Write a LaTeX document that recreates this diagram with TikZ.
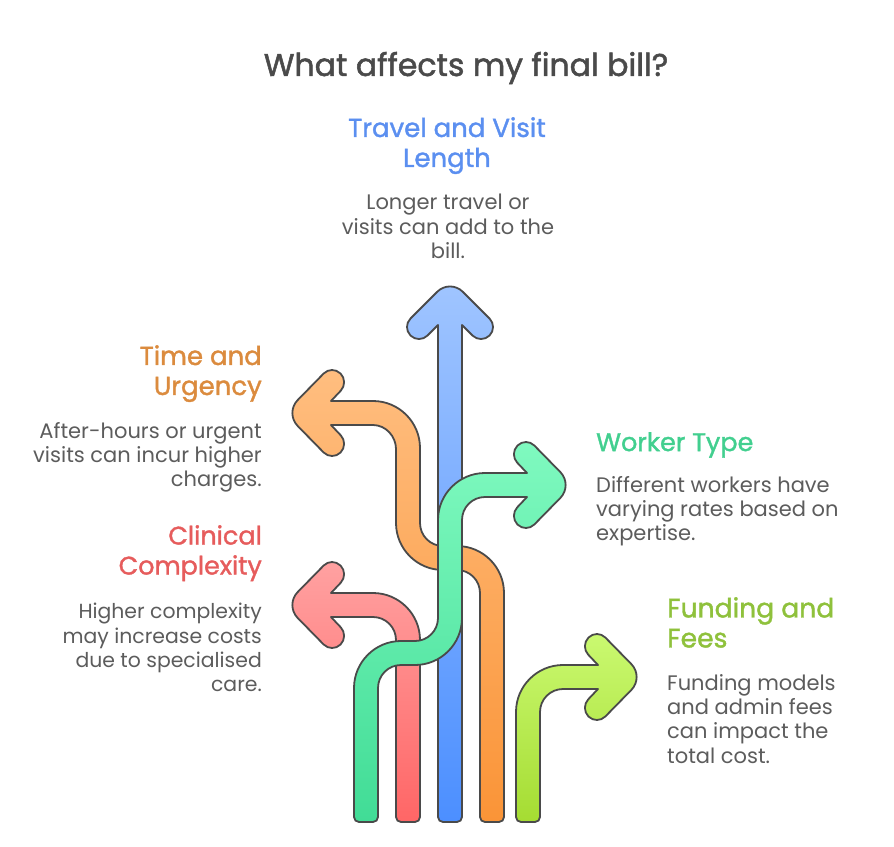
\documentclass[tikz,border=0pt]{standalone}
\usepackage{fontspec}
\setmainfont{Poppins}
\newfontfamily\titlefont[FakeBold=1.6]{Poppins}
\newfontfamily\headfont[FakeBold=1.4]{Poppins}
\newfontfamily\bodyfont{Poppins}
\definecolor{ink}{HTML}{4A4A4A}
\definecolor{bodyc}{HTML}{5C5C5C}
\definecolor{hblue}{HTML}{5B8FF0}
\definecolor{horange}{HTML}{DB8B3E}
\definecolor{hred}{HTML}{E65C5C}
\definecolor{hgreen}{HTML}{42CF8F}
\definecolor{hlime}{HTML}{8FC13C}
\def\headH#1#2#3#4{-- ({#1-(#3)*46},{#2-(#4)*12}) [rounded corners=12pt] -- ({#1-(#3)*64},{#2-(#4)*31}) -- ({#1-(#3)*47},{#2-(#4)*48}) [rounded corners=18pt] -- (#1,#2) [rounded corners=12pt] -- ({#1-(#3)*47},{#2+(#4)*48}) -- ({#1-(#3)*64},{#2+(#4)*31}) [sharp corners] -- ({#1-(#3)*46},{#2+(#4)*12})}
\tikzset{
  arrowshape/.style={draw=ink,line width=1.8pt,line join=round,shade,shading angle=0},
  title/.style={text=ink,font=\titlefont\fontsize{31.5}{36}\selectfont,inner sep=0pt},
  heading/.style={font=\headfont\fontsize{26}{30}\selectfont,inner sep=0pt},
  body/.style={text=bodyc,font=\bodyfont\fontsize{21}{24.3}\selectfont,inner sep=0pt},
}
\begin{document}
\begin{tikzpicture}[x=1pt,y=-1pt]
\useasboundingbox (0,0) rectangle (894,846);
% blue
\path[arrowshape,top color={rgb,255:red,160;green,197;blue,255},bottom color={rgb,255:red,76;green,143;blue,255}]
 (443,822) .. controls +(-2.8,0) and +(0,2.8) .. (438,817) -- (438,325)
 [rounded corners=12pt] -- (419,344) -- (402,327) [rounded corners=18pt] -- (450,279) [rounded corners=12pt] -- (498,327) -- (481,344) [sharp corners] -- (462,325)
 -- (462,817) .. controls +(0,2.8) and +(2.8,0) .. (457,822) -- cycle;
% red
\path[arrowshape,top color={rgb,255:red,255;green,162;blue,162},bottom color={rgb,255:red,255;green,102;blue,102}]
 (401,822) .. controls +(-2.8,0) and +(0,2.8) .. (396,817) -- (396,640) .. controls +(0,-12.7) and +(12.7,0) .. (373,617) \headH{285}{605}{-1}{-1} -- (373,593) .. controls +(25.9,0) and +(0,-25.9) .. (420,640) -- (420,817) .. controls +(0,2.8) and +(2.8,0) .. (415,822) -- cycle;
% orange
\path[arrowshape,top color={rgb,255:red,255;green,190;blue,128},bottom color={rgb,255:red,250;green,148;blue,55}]
 (485,822) .. controls +(-2.8,0) and +(0,2.8) .. (480,817) -- (480,593) .. controls +(0,-12.7) and +(12.7,0) .. (457,570) -- (443,570) .. controls +(-25.9,0) and +(0,25.9) .. (396,523) -- (396,449) .. controls +(0,-12.7) and +(12.7,0) .. (373,425) \headH{285}{413}{-1}{-1} -- (373,401) .. controls +(25.9,0) and +(0,-25.9) .. (420,448) -- (420,523) .. controls +(0,12.7) and +(-12.7,0) .. (443,546) -- (457,546) .. controls +(25.9,0) and +(0,-25.9) .. (504,593) -- (504,817) .. controls +(0,2.8) and +(2.8,0) .. (499,822) -- cycle;
% lime
\path[arrowshape,top color={rgb,255:red,203;green,250;blue,114},bottom color={rgb,255:red,165;green,220;blue,50}]
 (521,822) .. controls +(-2.8,0) and +(0,2.8) .. (516,817) -- (516,712) .. controls +(0,-25.9) and +(-25.9,0) .. (563,665) \headH{644}{677}{1}{1} -- (563,689) .. controls +(-12.7,0) and +(0,-12.7) .. (540,712) -- (540,817) .. controls +(0,2.8) and +(2.8,0) .. (535,822) -- cycle;
% green
\path[arrowshape,top color={rgb,255:red,128;green,250;blue,192},bottom color={rgb,255:red,65;green,220;blue,150}]
 (359,822) .. controls +(-2.8,0) and +(0,2.8) .. (354,817) -- (354,688) .. controls +(0,-25.9) and +(-25.9,0) .. (401,641) -- (415,641) .. controls +(12.7,0) and +(0,12.7) .. (438,618) -- (438,520) .. controls +(0,-25.9) and +(-25.9,0) .. (485,473) \headH{573}{485}{1}{1} -- (485,497) .. controls +(-12.7,0) and +(0,-12.7) .. (462,520) -- (462,618) .. controls +(0,25.9) and +(25.9,0) .. (415,665) -- (401,665) .. controls +(-12.7,0) and +(0,-12.7) .. (378,688) -- (378,817) .. controls +(0,2.8) and +(2.8,0) .. (373,822) -- cycle;
% texts
\node[title] (ttl) at (466,68) {What affects my final bill?};
\node[heading,text=hblue,align=center,anchor=north] (h1) at (447,117) {Travel and Visit\\Length};
\node[body,align=center,anchor=north] (b1) at (448,194) {Longer travel or\\visits can add to the\\bill.};
\node[heading,text=horange,align=right,anchor=north east] (h2) at (262,345) {Time and\\Urgency};
\node[body,align=right,anchor=north east] (b2) at (262,422) {After-hours or urgent\\visits can incur higher\\charges.};
\node[heading,text=hred,align=right,anchor=north east,font=\headfont\fontsize{25.4}{30}\selectfont] (h3) at (262,525) {Clinical\\Complexity};
\node[body,align=right,anchor=north east,font=\bodyfont\fontsize{20.4}{24.3}\selectfont] (b3) at (262,603) {Higher complexity\\may increase costs\\due to specialised\\care.};
\node[heading,text=hgreen,align=left,anchor=north west,font=\headfont\fontsize{25.5}{30}\selectfont] (h4) at (596,432) {Worker Type};
\node[body,align=left,anchor=north west] (b4) at (596,476) {Different workers have\\varying rates based on\\expertise.};
\node[heading,text=hlime,align=left,anchor=north west,font=\headfont\fontsize{26.6}{30}\selectfont] (h5) at (667,597) {Funding and\\Fees};
\node[body,align=left,anchor=north west] (b5) at (667,674) {Funding models\\and admin fees\\can impact the\\total cost.};
\end{tikzpicture}
\end{document}
